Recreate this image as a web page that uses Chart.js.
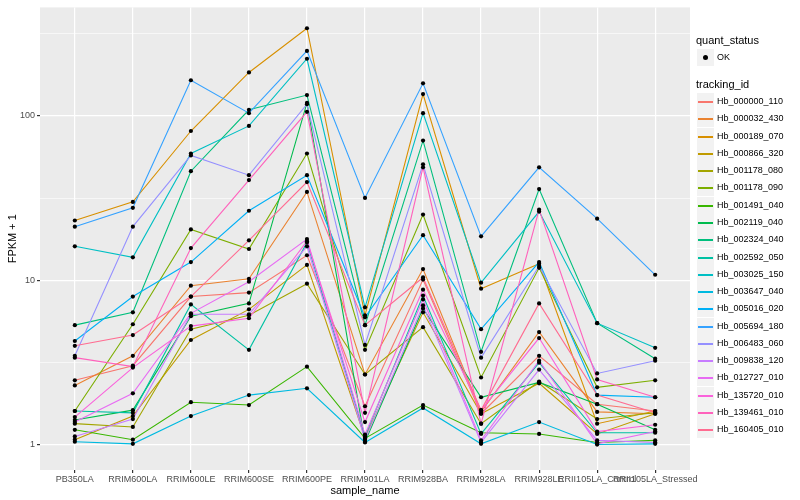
<!DOCTYPE html>
<html>
<head>
<meta charset="utf-8">
<script src="https://cdn.jsdelivr.net/npm/chart.js@4.4.1/dist/chart.umd.min.js"></script>
<style>
  html, body { margin: 0; padding: 0; background: #fff; }
  #wrap { position: relative; width: 800px; height: 500px; font-family: "Liberation Sans", Arial, sans-serif; }
  #c { position: absolute; left: 0; top: 0; }
  #legend { position: absolute; left: 0; top: 0; width: 800px; height: 500px; pointer-events: none; }
  .ttl { position: absolute; left: 696px; font-size: 11px; line-height: 13px; color: #000; white-space: nowrap; }
  .row { position: absolute; left: 697px; width: 100px; height: 17px; }
  .key { position: absolute; left: 0; top: 0; width: 17px; height: 17px; background: #f2f2f2; }
  .key i { position: absolute; left: 1px; right: 1px; top: 8px; height: 1.5px; }
  .key b { position: absolute; left: 6px; top: 6px; width: 5px; height: 5px; border-radius: 50%; background: #000; }
  .lab { position: absolute; left: 20px; top: 0; line-height: 17px; font-size: 9px; color: #000; white-space: nowrap; }
</style>
</head>
<body>
<div id="wrap">
  <canvas id="c" width="800" height="500"></canvas>
  <div id="legend"></div>
</div>
<script>
  const sampleNames = ["PB350LA", "RRIM600LA", "RRIM600LE", "RRIM600SE", "RRIM600PE", "RRIM901LA",
    "RRIM928BA", "RRIM928LA", "RRIM928LE", "RRII105LA_Control", "RRII105LA_Stressed"];

  const trackingIds = ["Hb_000000_110", "Hb_000032_430", "Hb_000189_070", "Hb_000866_320", "Hb_001178_080",
    "Hb_001178_090", "Hb_001491_040", "Hb_002119_040", "Hb_002324_040", "Hb_002592_050",
    "Hb_003025_150", "Hb_003647_040", "Hb_005016_020", "Hb_005694_180", "Hb_006483_060",
    "Hb_009838_120", "Hb_012727_010", "Hb_135720_010", "Hb_139461_010", "Hb_160405_010"];

  const seriesColors = ["#F8766D", "#EA8331", "#D89000", "#C09B00", "#A3A500", "#7CAE00", "#39B600",
    "#00BB4E", "#00BF7D", "#00C1A3", "#00BFC4", "#00BAE0", "#00B0F6", "#35A2FF", "#9590FF",
    "#C77CFF", "#E76BF3", "#FA62DB", "#FF62BC", "#FF6C91"];

  // FPKM + 1, one value per sample
  const hb000000_110 = [2.46, 3.02, 7.96, 8.41, 14.2, 1.71, 10.1, 1.54, 3.47, 1.76, 1.60];
  const hb000032_430 = [2.29, 3.47, 9.27, 10.2, 34.5, 2.67, 11.7, 1.58, 4.84, 1.58, 1.54];
  const hb000189_070 = [23.1, 30.0, 81, 184, 342, 6.12, 136, 8.89, 12.6, 1.34, 1.60];
  const hb000866_320 = [1.07, 1.49, 4.33, 6.65, 12.4, 1.10, 6.38, 1.54, 2.36, 1.16, 1.54];
  const hb001178_080 = [1.34, 1.28, 5.04, 6.12, 9.53, 2.67, 5.18, 1.34, 2.42, 1.43, 1.56];
  const hb001178_090 = [1.60, 5.40, 20.4, 15.5, 59.1, 3.77, 25.1, 2.56, 11.9, 2.23, 2.46];
  const hb001491_040 = [1.23, 1.07, 1.81, 1.74, 2.98, 1.09, 1.74, 1.18, 1.16, 1.03, 1.06];
  const hb002119_040 = [1.41, 1.62, 6.04, 7.23, 120, 1.04, 6.74, 1.94, 2.39, 1.76, 1.23];
  const hb002324_040 = [5.33, 6.38, 46.1, 109, 134, 5.33, 70.8, 3.67, 35.9, 5.48, 3.33];
  const hb002592_050 = [1.60, 1.56, 7.13, 3.77, 17.0, 1.12, 8.07, 1.16, 3.15, 1.18, 1.18];
  const hb003025_150 = [16.1, 13.8, 59.1, 87, 223, 6.84, 104, 9.67, 26.2, 5.48, 3.88];
  const hb003647_040 = [1.04, 1.01, 1.49, 2.00, 2.20, 1.03, 1.67, 1.01, 1.37, 1.00, 1.01];
  const hb005016_020 = [4.27, 7.96, 12.9, 26.5, 43.6, 5.95, 18.8, 5.04, 12.9, 2.00, 1.94];
  const hb005694_180 = [21.2, 27.6, 165, 104, 249, 31.7, 158, 18.5, 48.7, 23.7, 10.8];
  const hb006483_060 = [3.47, 21.2, 57.5, 43.6, 118, 4.04, 50.8, 3.38, 12.2, 2.71, 3.24];
  const hb009838_120 = [1.12, 1.43, 6.21, 6.21, 16.1, 1.07, 7.03, 1.03, 2.86, 1.06, 1.03];
  const hb012727_010 = [1.37, 2.05, 6.29, 9.8, 17.8, 1.15, 7.64, 1.06, 3.24, 1.01, 1.20];
  const hb135720_010 = [1.47, 2.94, 5.26, 5.87, 17.3, 1.37, 8.77, 1.62, 4.45, 1.20, 1.32];
  const hb139461_010 = [3.38, 2.98, 15.7, 40.7, 106, 1.56, 48.7, 1.34, 26.9, 2.49, 1.94];
  const hb160405_010 = [3.99, 4.64, 7.96, 17.5, 39.6, 5.33, 10.4, 1.62, 7.23, 2.00, 1.56];

  const seriesValues = [hb000000_110, hb000032_430, hb000189_070, hb000866_320, hb001178_080,
    hb001178_090, hb001491_040, hb002119_040, hb002324_040, hb002592_050,
    hb003025_150, hb003647_040, hb005016_020, hb005694_180, hb006483_060,
    hb009838_120, hb012727_010, hb135720_010, hb139461_010, hb160405_010];

  // y grid: majors carry labels, minors sit half a decade between
  const yGridValues = [1, 3.1623, 10, 31.623, 100, 316.23];
  const yTickLabels = ["1", "", "10", "", "100", ""];

  Chart.defaults.font.family = '"Liberation Sans", Arial, sans-serif';

  const toPoints = vals => vals.map((v, j) => ({ x: j, y: v }));

  const lineSets = seriesValues.map((vals, i) => ({
    label: trackingIds[i],
    data: toPoints(vals),
    borderColor: seriesColors[i],
    borderWidth: 1.1,
    pointRadius: 0,
    fill: false,
    tension: 0,
    order: 100 - i
  }));

  const pointSets = seriesValues.map((vals, i) => ({
    label: trackingIds[i] + " OK",
    data: toPoints(vals),
    showLine: false,
    pointRadius: 2.1,
    pointBackgroundColor: "#000",
    pointBorderWidth: 0,
    order: 0
  }));

  const panelBg = {
    id: "panelBg",
    beforeDraw(chart) {
      const a = chart.chartArea, ctx = chart.ctx;
      ctx.save();
      ctx.fillStyle = "#EBEBEB";
      ctx.fillRect(a.left, a.top, a.right - a.left, a.bottom - a.top);
      ctx.restore();
    }
  };

  new Chart(document.getElementById("c"), {
    type: "line",
    data: { datasets: [...lineSets, ...pointSets] },
    plugins: [panelBg],
    options: {
      responsive: false,
      animation: false,
      layout: { padding: { top: 5, right: 110, left: 0, bottom: 0 } },
      plugins: { legend: { display: false }, tooltip: { enabled: false } },
      scales: {
        x: {
          type: "linear",
          min: -0.6,
          max: 10.6,
          afterBuildTicks: s => { s.ticks = sampleNames.map((n, i) => ({ value: i })); },
          afterFit: s => { s.height = 30; },
          ticks: {
            callback: (v) => sampleNames[Math.round(v)],
            autoSkip: false, maxRotation: 0, minRotation: 0,
            color: "#4D4D4D", font: { size: 9 }, padding: 1
          },
          grid: { color: "#fff", lineWidth: 1.2, tickColor: "#333", tickLength: 3 },
          border: { display: false },
          title: { display: true, text: "sample_name", color: "#000", font: { size: 11 }, padding: { top: 0, bottom: 2 } }
        },
        y: {
          type: "logarithmic",
          min: 0.746,
          max: 458,
          afterBuildTicks: s => { s.ticks = yGridValues.map(v => ({ value: v })); },
          afterFit: s => { s.width = 40; },
          ticks: {
            callback: (v, i) => yTickLabels[i],
            autoSkip: false,
            color: "#4D4D4D", font: { size: 9 }, padding: 2
          },
          grid: {
            color: "#fff",
            lineWidth: c => (yTickLabels[c.index] ? 1.2 : 0.6),
            tickColor: c => (yTickLabels[c.index] ? "#333" : "rgba(0,0,0,0)"),
            tickLength: 3
          },
          border: { display: false },
          title: { display: true, text: "FPKM + 1", color: "#000", font: { size: 11 }, padding: { top: 6, bottom: 0 } }
        }
      }
    }
  });

  // legend, ggplot style
  const legend = document.getElementById("legend");
  function add(html) { legend.insertAdjacentHTML("beforeend", html); }
  add('<div class="ttl" style="top:34px">quant_status</div>');
  add('<div class="row" style="top:49px"><div class="key"><b></b></div><div class="lab">OK</div></div>');
  add('<div class="ttl" style="top:78px">tracking_id</div>');
  trackingIds.forEach((id, i) => {
    const top = Math.round(93 + i * 17.28);
    add('<div class="row" style="top:' + top + 'px"><div class="key"><i style="background:' +
      seriesColors[i] + '"></i></div><div class="lab">' + id + '</div></div>');
  });
</script>
</body>
</html>
